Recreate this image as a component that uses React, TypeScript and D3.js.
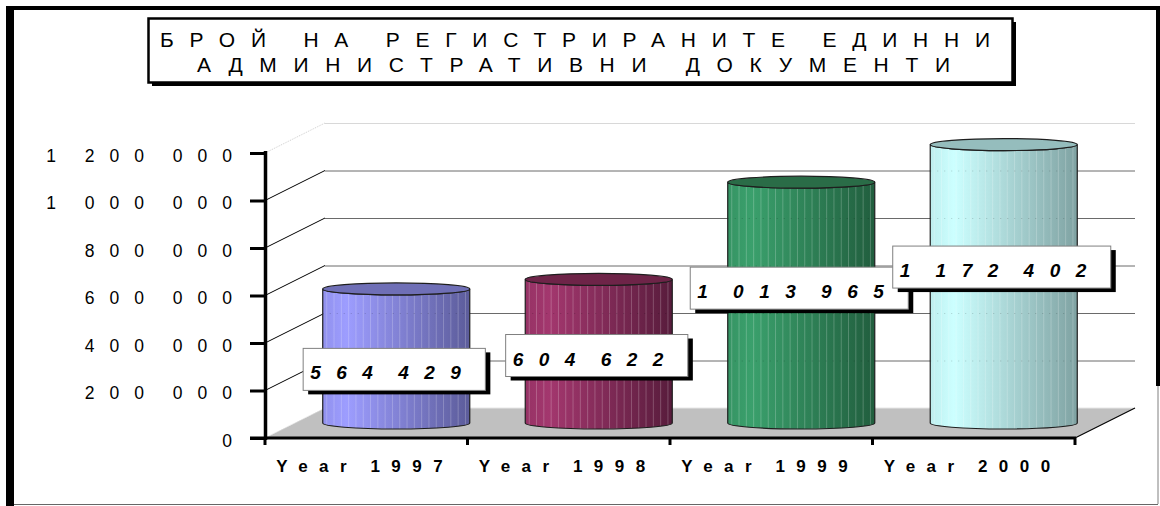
import React, { useRef, useEffect } from 'react';
import * as d3 from 'd3';

const categories = ['Year 1997', 'Year 1998', 'Year 1999', 'Year 2000'];
const values = [564429, 604622, 1013965, 1172402];
const yTicks = [0, 200000, 400000, 600000, 800000, 1000000, 1200000];
const titleLines = ['БРОЙ НА РЕГИСТРИРАНИТЕ ЕДИННИ', 'АДМИНИСТРАТИВНИ ДОКУМЕНТИ'];

// light side, dark side, top cap
const sideLight = ['#9d9dff', '#a3376e', '#3aa06c', '#ccffff'];
const sideDark = ['#5c5c9a', '#581c3c', '#215e3e', '#7fa2a2'];
const capColor = ['#6f6fb6', '#6e2448', '#2a6c47', '#95bdbd'];

// where the value boxes sit, as a share of the cylinder height
const labelLift = [0.40, 0.47, 0.56, 0.56];

const W = 1160, H = 506;
const FONT = "'Liberation Sans', Arial, sans-serif";

const fmt = (v: number) => d3.format(',')(v).replace(/,/g, ' ');

export default function App() {
    const chartRef = useRef<SVGSVGElement>(null);

    useEffect(() => {
        const svg = d3.select(chartRef.current);
        svg.selectAll('*').remove();
        const defs = svg.append('defs');

        svg.append('rect').attr('width', W).attr('height', H).attr('fill', '#fff');

        // outer frame
        svg.append('rect').attr('x', 6).attr('y', 6).attr('width', 8).attr('height', H - 6).attr('fill', '#000');
        svg.append('rect').attr('x', 6).attr('y', 6).attr('width', W - 6).attr('height', 4).attr('fill', '#000');
        svg.append('rect').attr('x', W - 4).attr('y', 6).attr('width', 4).attr('height', 380).attr('fill', '#000');
        svg.append('line').attr('x1', W - 2).attr('y1', 386).attr('x2', W - 2).attr('y2', 504)
            .attr('stroke', '#808080').attr('stroke-width', 1);
        svg.append('line').attr('x1', 14).attr('y1', 504.5).attr('x2', W - 2).attr('y2', 504.5)
            .attr('stroke', '#666').attr('stroke-width', 1.2);

        // title box
        svg.append('rect').attr('x', 152).attr('y', 22).attr('width', 864).attr('height', 64).attr('fill', '#000');
        svg.append('rect').attr('x', 148.5).attr('y', 18.5).attr('width', 864).attr('height', 64)
            .attr('fill', '#fff').attr('stroke', '#000').attr('stroke-width', 2.5);
        const titleX = [160, 197], titleLen = [830, 753], titleY = [47, 72];
        titleLines.forEach((t, i) => {
            svg.append('text').attr('x', titleX[i]).attr('y', titleY[i])
                .attr('textLength', titleLen[i]).attr('lengthAdjust', 'spacing')
                .style('font-family', "'Liberation Sans Narrow', 'Liberation Sans', Arial, sans-serif")
                .style('font-size', '21px').attr('fill', '#000')
                .text(t);
        });

        const xScale = d3.scaleBand().domain(categories).range([265, 1075]);
        const yScale = d3.scaleLinear().domain([0, 1200000]).range([438, 153]);
        const [xa, xb] = xScale.range();
        const dx = 60, dy = 30;
        const y0 = yScale(0);

        // floor
        svg.append('path')
            .attr('d', `M${xa},${y0}L${xb},${y0}L${xb + dx},${y0 - dy}L${xa + dx},${y0 - dy}Z`)
            .attr('fill', '#c0c0c0');
        svg.append('line').attr('x1', xa).attr('y1', y0).attr('x2', xa + dx).attr('y2', y0 - dy)
            .attr('stroke', '#e0e0e0').attr('stroke-dasharray', '1,1');
        svg.append('line').attr('x1', xa + dx).attr('y1', y0 - dy).attr('x2', xb + dx).attr('y2', y0 - dy)
            .attr('stroke', '#e6e6e6');
        svg.append('line').attr('x1', xb).attr('y1', y0).attr('x2', xb + dx).attr('y2', y0 - dy)
            .attr('stroke', '#000').attr('stroke-width', 1.2);

        // gridlines on side and back wall
        yTicks.filter(t => t > 0).forEach(t => {
            const yy = yScale(t);
            const top = t === yTicks[yTicks.length - 1];
            svg.append('line').attr('x1', xa).attr('y1', yy).attr('x2', xa + dx).attr('y2', yy - dy)
                .attr('stroke', top ? '#cfcfcf' : '#000').attr('stroke-width', 1)
                .attr('stroke-dasharray', top ? '1,1' : null);
            svg.append('line').attr('x1', xa + dx).attr('y1', yy - dy + 0.5).attr('x2', xb + dx).attr('y2', yy - dy + 0.5)
                .attr('stroke', top ? '#d8d8d8' : '#6a6a6a').attr('stroke-width', 1);
        });

        // cylinders
        const rx = xScale.bandwidth() * 0.363, ry = 6;
        values.forEach((v, i) => {
            const cx = xScale(categories[i])! + xScale.bandwidth() / 2 + dx / 2;
            const base = y0 - dy / 2;
            const top = yScale(v) - dy / 2;

            const g = defs.append('linearGradient').attr('id', 'cyl' + i)
                .attr('x1', 0).attr('x2', 1).attr('y1', 0).attr('y2', 0);
            g.append('stop').attr('offset', '0%').attr('stop-color', d3.interpolateRgb(sideLight[i], sideDark[i])(0.18));
            g.append('stop').attr('offset', '16%').attr('stop-color', sideLight[i]);
            g.append('stop').attr('offset', '100%').attr('stop-color', sideDark[i]);

            const body = `M${cx - rx},${top}L${cx - rx},${base}A${rx},${ry} 0 0 0 ${cx + rx},${base}` +
                `L${cx + rx},${top}A${rx},${ry} 0 0 1 ${cx - rx},${top}Z`;
            defs.append('clipPath').attr('id', 'clip' + i).append('path').attr('d', body);

            svg.append('path').attr('d', body).attr('fill', `url(#cyl${i})`);

            const stripes = svg.append('g').attr('clip-path', `url(#clip${i})`);
            d3.range(cx - rx + 4, cx + rx, 7.3).forEach(sx => {
                stripes.append('line').attr('x1', sx).attr('y1', top - ry).attr('x2', sx).attr('y2', base + ry)
                    .attr('stroke', '#fff').attr('stroke-opacity', 0.22).attr('stroke-width', 1);
            });
            yTicks.filter(t => t > 0).forEach(t => {
                const yb = yScale(t) - dy + 0.5;
                if (yb > top + ry && yb < base) {
                    stripes.append('line').attr('x1', cx - rx).attr('y1', yb).attr('x2', cx + rx).attr('y2', yb)
                        .attr('stroke', '#000').attr('stroke-opacity', 0.18).attr('stroke-dasharray', '1,6');
                }
            });

            svg.append('path').attr('d', body).attr('fill', 'none').attr('stroke', '#1e1e1e').attr('stroke-width', 1.2);
            svg.append('ellipse').attr('cx', cx).attr('cy', top).attr('rx', rx).attr('ry', ry)
                .attr('fill', capColor[i]).attr('stroke', '#1e1e1e').attr('stroke-width', 1.2);
        });

        // y axis
        const yAxis = svg.append('g').attr('transform', `translate(${xa},0)`)
            .call(d3.axisLeft(yScale).tickValues(yTicks).tickSize(15).tickSizeOuter(0).tickPadding(3).tickFormat(d => fmt(+d)));
        yAxis.select('.domain').attr('stroke-width', 3.5).attr('d', `M0.5,${yScale(1200000) - 2}V${y0 + 2}`);
        yAxis.selectAll('.tick line').attr('stroke-width', 3);
        yAxis.selectAll('.tick text')
            .attr('dy', '0.46em')
            .style('font-family', FONT).style('font-size', '17.5px')
            .style('letter-spacing', '15px').style('word-spacing', '-6px').attr('fill', '#000');

        // x axis
        svg.append('line').attr('x1', 250).attr('y1', y0).attr('x2', xb + 1).attr('y2', y0)
            .attr('stroke', '#000').attr('stroke-width', 3);
        [...categories.map(c => xScale(c)!), xb].forEach(bx => {
            svg.append('line').attr('x1', bx).attr('y1', y0).attr('x2', bx).attr('y2', y0 + 7)
                .attr('stroke', '#000').attr('stroke-width', 3);
        });
        const xAxis = svg.append('g').attr('transform', `translate(0,${y0})`)
            .call(d3.axisBottom(xScale).tickSize(0).tickPadding(0));
        xAxis.select('.domain').remove();
        xAxis.selectAll('.tick text')
            .attr('x', -1).attr('y', 34).attr('dy', null)
            .style('font-family', FONT).style('font-size', '17px').style('font-weight', 'bold')
            .style('letter-spacing', '11.5px').style('word-spacing', '-4px').attr('fill', '#000');

        // value boxes
        values.forEach((v, i) => {
            const cx = xScale(categories[i])! + xScale.bandwidth() / 2 + dx / 2;
            const base = y0 - dy / 2;
            const h = y0 - yScale(v);
            const cy = base - labelLift[i] * h;
            const lg = svg.append('g');
            const shadow = lg.append('rect');
            const box = lg.append('rect');
            const txt = lg.append('text')
                .style('font-family', FONT).style('font-size', '19px')
                .style('font-weight', 'bold').style('font-style', 'italic')
                .style('letter-spacing', '15.5px').style('word-spacing', '-11px')
                .attr('fill', '#000').text(fmt(v));
            const len = (txt.node() as SVGTextElement).getComputedTextLength();
            const bw = len + 16, bh = 42;
            const bx = cx - 2 - bw / 2, by = cy - bh / 2;
            shadow.attr('x', bx + 5).attr('y', by + 4).attr('width', bw).attr('height', bh).attr('fill', '#000');
            box.attr('x', bx).attr('y', by).attr('width', bw).attr('height', bh)
                .attr('fill', '#fff').attr('stroke', '#808080').attr('stroke-width', 1);
            txt.attr('x', bx + 7).attr('y', by + bh - 11);
        });
    }, []);

    return (
        <div style={{ position: 'absolute', left: 0, top: 0 }}>
            <svg width={W} height={H} ref={chartRef} style={{ display: 'block' }} />
        </div>
    );
}
